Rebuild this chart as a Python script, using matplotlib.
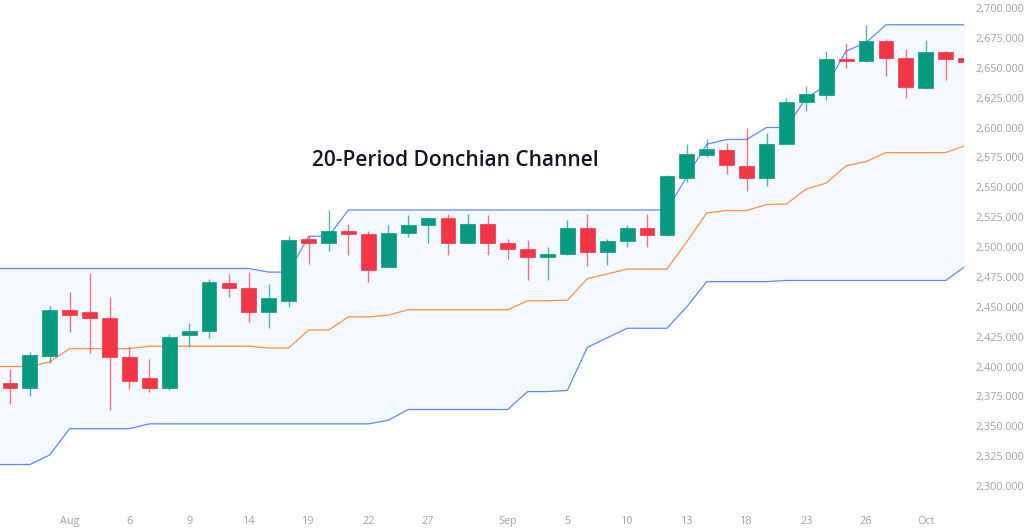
import numpy as np
import pandas as pd
import matplotlib
matplotlib.use('Agg')
import matplotlib.pyplot as plt
from matplotlib.ticker import FuncFormatter

# Dane OHLC
open_ = [2386, 2382, 2409, 2447, 2446, 2441, 2408, 2390, 2382, 2426,
         2430, 2470, 2466, 2446, 2455, 2507, 2503, 2513, 2511, 2483,
         2512, 2518, 2524, 2503, 2519, 2503, 2498, 2492, 2494, 2516,
         2496, 2505, 2516, 2510, 2558, 2577, 2581, 2568, 2558, 2586,
         2621, 2627, 2657, 2656, 2672, 2658, 2633, 2663, 2658]
high = [2398, 2412, 2451, 2462, 2478, 2458, 2417, 2406, 2427, 2436,
        2473, 2477, 2479, 2469, 2509, 2509, 2531, 2519, 2513, 2518,
        2527, 2525, 2528, 2528, 2527, 2507, 2506, 2500, 2523, 2528,
        2507, 2518, 2528, 2560, 2586, 2590, 2587, 2600, 2595, 2625,
        2635, 2664, 2671, 2686, 2674, 2666, 2673, 2664, 2659]
low = [2369, 2375, 2403, 2429, 2411, 2364, 2381, 2379, 2380, 2416,
       2424, 2458, 2437, 2432, 2450, 2486, 2497, 2493, 2471, 2483,
       2508, 2503, 2493, 2503, 2493, 2490, 2472, 2472, 2493, 2484,
       2485, 2500, 2500, 2509, 2554, 2575, 2561, 2547, 2551, 2586,
       2614, 2623, 2650, 2655, 2643, 2625, 2632, 2640, 2652]
close = [2382, 2410, 2447, 2443, 2441, 2408, 2388, 2382, 2425, 2430,
         2471, 2466, 2446, 2457, 2506, 2503, 2513, 2511, 2481, 2512,
         2518, 2524, 2503, 2519, 2503, 2498, 2492, 2494, 2516, 2496,
         2505, 2516, 2510, 2559, 2578, 2582, 2569, 2558, 2586, 2621,
         2628, 2657, 2656, 2672, 2658, 2634, 2663, 2657, 2655]

# Kanał Donchiana (pierwsza wartość = świeca przed widocznym zakresem)
upper = [2482, 2482, 2482, 2482, 2482, 2482, 2482, 2482, 2482, 2482,
         2482, 2482, 2482, 2482, 2479, 2479, 2509, 2509, 2531, 2531,
         2531, 2531, 2531, 2531, 2531, 2531, 2531, 2531, 2531, 2531,
         2531, 2531, 2531, 2531, 2531, 2559, 2586, 2590, 2590, 2600,
         2600, 2625, 2635, 2664, 2671, 2686, 2686, 2686, 2686, 2686]
lower = [2318, 2318, 2318, 2326, 2348, 2348, 2348, 2348, 2352, 2352,
         2352, 2352, 2352, 2352, 2352, 2352, 2352, 2352, 2352, 2352,
         2355, 2364, 2364, 2364, 2364, 2364, 2364, 2379, 2379, 2380,
         2416, 2424, 2432, 2432, 2432, 2450, 2471, 2471, 2471, 2471,
         2472, 2472, 2472, 2472, 2472, 2472, 2472, 2472, 2472, 2484]

# Etykiety osi X
tick_dates = ['2024-08-01', '2024-08-06', '2024-08-09', '2024-08-14', '2024-08-19',
              '2024-08-22', '2024-08-27', '2024-09-02', '2024-09-05', '2024-09-10',
              '2024-09-13', '2024-09-18', '2024-09-23', '2024-09-26', '2024-10-01']
tick_labels = ['Aug', '6', '9', '14', '19', '22', '27', 'Sep', '5', '10',
               '13', '18', '23', '26', 'Oct']

dates = pd.bdate_range('2024-07-29', periods=len(close))
x = np.arange(len(close))
xc = np.arange(-1, len(close))

up_col = '#089981'
down_col = '#F23645'
grey = '#9ea1aa'

fig = plt.figure(figsize=(10.24, 5.28), dpi=100)
ax = fig.add_axes([0, 23 / 528, 964 / 1024, 505 / 528])

# Kanał
upper_a = np.array(upper, dtype=float)
lower_a = np.array(lower, dtype=float)
mid = (upper_a + lower_a) / 2
ax.fill_between(xc, lower_a, upper_a, color='#2196F3', alpha=0.05, linewidth=0, zorder=1)
ax.plot(xc, upper_a, color='#2962FF', lw=0.9, alpha=0.75, zorder=2)
ax.plot(xc, lower_a, color='#2962FF', lw=0.9, alpha=0.75, zorder=2)
ax.plot(xc, mid, color='#FF6D00', lw=0.9, alpha=0.75, zorder=2)

# Świece
o = np.array(open_, dtype=float)
c = np.array(close, dtype=float)
colors = [up_col if cc >= oo else down_col for oo, cc in zip(o, c)]
ax.vlines(x, low, high, colors=colors, lw=1, alpha=0.7, zorder=3)
body_h = np.maximum(np.abs(c - o), 0.9)
ax.bar(x, body_h, bottom=np.minimum(o, c), width=0.74, color=colors,
       edgecolor=colors, linewidth=0.5, zorder=4)

ax.set_xlim(-0.5, 47.92)
ax.set_ylim(2284.1, 2706.7)

# Osie
for s in ax.spines.values():
    s.set_visible(False)
ax.yaxis.tick_right()
ax.set_yticks(np.arange(2300, 2701, 25))
ax.yaxis.set_major_formatter(FuncFormatter(lambda v, p: f'{v:,.3f}'))
ax.tick_params(axis='y', length=0, pad=8, labelsize=7.8, labelcolor=grey)
tick_pos = [list(dates.strftime('%Y-%m-%d')).index(d) for d in tick_dates]
ax.set_xticks(tick_pos)
ax.set_xticklabels(tick_labels)
ax.tick_params(axis='x', length=0, pad=8, labelsize=7.8, labelcolor=grey)
for lbl in ax.get_xticklabels() + ax.get_yticklabels():
    lbl.set_fontfamily('Open Sans')
for lbl in ax.get_yticklabels():
    lbl.set_horizontalalignment('left')

fig.text(455 / 1024, 1 - 160 / 528, '20-Period Donchian Channel', ha='center', va='center',
         fontsize=15, fontweight='semibold', family='Open Sans', color='#131722')

plt.savefig('out.png', dpi=100)
